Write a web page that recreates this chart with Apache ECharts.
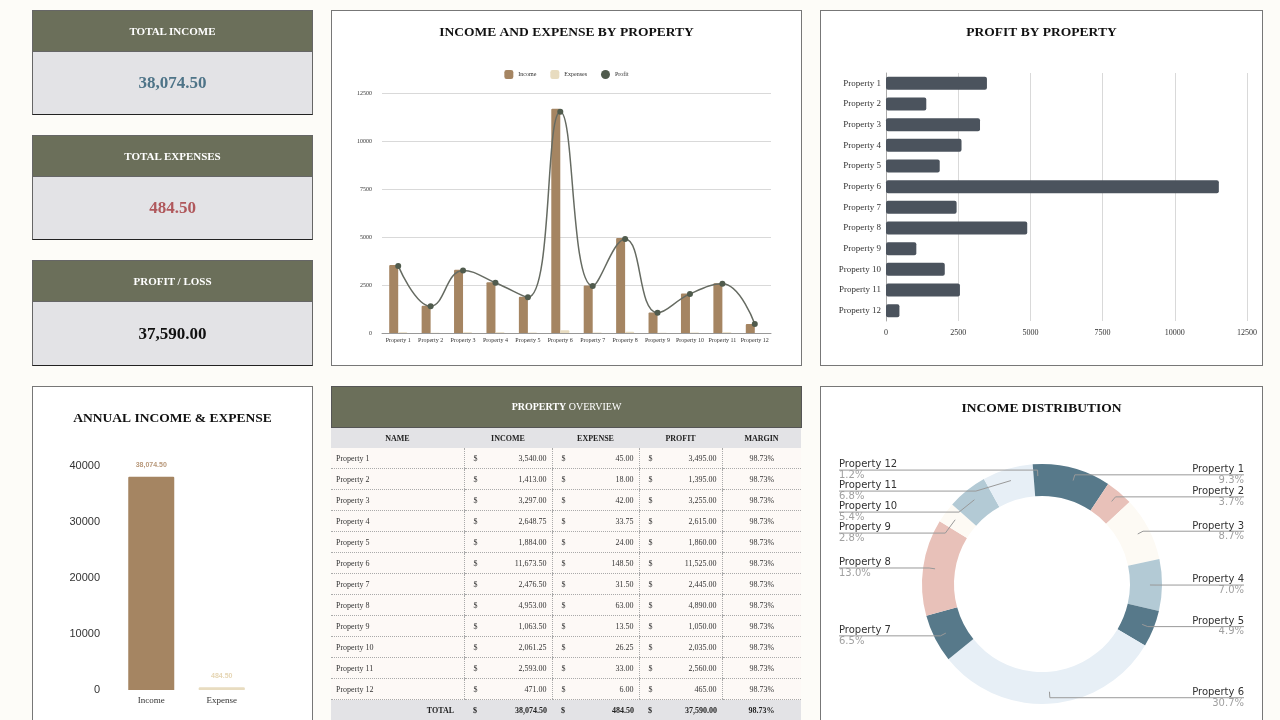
<!DOCTYPE html>
<html>
<head>
<meta charset="utf-8">
<title>Property Dashboard</title>
<script src="https://cdn.jsdelivr.net/npm/echarts@6/dist/echarts.min.js"></script>
<style>
body{margin:0;background:#fdfcf8;font-family:"Liberation Serif",serif;color:#222;}
.abs{position:absolute;box-sizing:border-box;}
.panel{background:#fff;border:1px solid #777;}
.kh{background:#6b6f5a;color:#fff;font-weight:bold;font-size:11px;text-align:center;line-height:40px;border:1px solid #666;}
.kb{background:#e3e3e6;font-weight:bold;font-size:17px;text-align:center;border:1px solid #666;border-top:none;border-bottom:1px solid #222;}
.flat{will-change:transform;}
#tbl{border-collapse:collapse;width:470px;font-size:8px;table-layout:fixed;}
#tbl td{height:20px;padding:0 5px;border-bottom:1px dotted #aaa;border-left:1px dotted #aaa;background:#fdf9f6;color:#333;white-space:nowrap;}
#tbl td:first-child{border-left:none;}
#tbl .th td{background:#e3e3e6;font-weight:bold;text-align:center;border-left:none;border-bottom:none;color:#222;}
#tbl .tot td{background:#e3e3e6;font-weight:bold;border-left:none;border-bottom:none;color:#222;}
.cur{float:left;padding-left:4px;}
.num{float:right;}
</style>
</head>
<body>

<div class="abs kh flat" style="left:32px;top:10px;width:281px;height:42px;">TOTAL INCOME</div>
<div class="abs kb flat" id="kpiIncome" style="left:32px;top:52px;width:281px;height:63px;line-height:62px;color:#4e7488;"></div>
<div class="abs kh flat" style="left:32px;top:135px;width:281px;height:42px;">TOTAL EXPENSES</div>
<div class="abs kb flat" id="kpiExpense" style="left:32px;top:177px;width:281px;height:63px;line-height:62px;color:#b0585c;"></div>
<div class="abs kh flat" style="left:32px;top:260px;width:281px;height:42px;">PROFIT / LOSS</div>
<div class="abs kb flat" id="kpiProfit" style="left:32px;top:302px;width:281px;height:64px;line-height:63px;color:#111;"></div>

<div class="abs panel" id="combo" style="left:331px;top:10px;width:471px;height:356px;"></div>
<div class="abs panel" id="profitBar" style="left:820px;top:10px;width:443px;height:356px;"></div>
<div class="abs panel" id="annual" style="left:32px;top:386px;width:281px;height:345px;"></div>

<div class="abs flat" style="left:331px;top:386px;width:471px;height:334px;overflow:hidden;">
  <div style="background:#6b6f5a;color:#fff;height:42px;line-height:40px;text-align:center;font-size:10px;border:1px solid #555;box-sizing:border-box;"><b>PROPERTY</b> OVERVIEW</div>
  <table id="tbl">
    <colgroup><col style="width:133px"><col style="width:88px"><col style="width:87px"><col style="width:83px"><col style="width:79px"></colgroup>
    <tbody id="tbody"></tbody>
  </table>
</div>

<div class="abs panel" id="donut" style="left:820px;top:386px;width:443px;height:345px;"></div>

<script>
// data
var propNames = ['Property 1','Property 2','Property 3','Property 4','Property 5','Property 6','Property 7','Property 8','Property 9','Property 10','Property 11','Property 12'];
var incomeVals = [3540.00, 1413.00, 3297.00, 2648.75, 1884.00, 11673.50, 2476.50, 4953.00, 1063.50, 2061.25, 2593.00, 471.00];
var expenseVals = [45.00, 18.00, 42.00, 33.75, 24.00, 148.50, 31.50, 63.00, 13.50, 26.25, 33.00, 6.00];
var profitVals = [3495.00, 1395.00, 3255.00, 2615.00, 1860.00, 11525.00, 2445.00, 4890.00, 1050.00, 2035.00, 2560.00, 465.00];
var marginVals = ['98.73%','98.73%','98.73%','98.73%','98.73%','98.73%','98.73%','98.73%','98.73%','98.73%','98.73%','98.73%'];
var totalIncome = 38074.50;
var totalExpense = 484.50;
var totalProfit = 37590.00;
var totalMargin = '98.73%';
var annualCats = ['Income','Expense'];
var annualVals = [38074.50, 484.50];

var serif = 'Liberation Serif';

function fmt(v){
    var s = v.toFixed(2).split('.');
    return s[0].replace(/\B(?=(\d{3})+(?!\d))/g, ',') + '.' + s[1];
}
function plain(v){ return String(v); }

// kpi cards
document.getElementById('kpiIncome').textContent = fmt(totalIncome);
document.getElementById('kpiExpense').textContent = fmt(totalExpense);
document.getElementById('kpiProfit').textContent = fmt(totalProfit);

// table
var rows = '<tr class="th"><td>NAME</td><td>INCOME</td><td>EXPENSE</td><td>PROFIT</td><td>MARGIN</td></tr>';
function money(v){ return '<td><span class="cur">$</span><span class="num">' + fmt(v) + '</span></td>'; }
for (var i = 0; i < propNames.length; i++) {
    rows += '<tr><td>' + propNames[i] + '</td>' + money(incomeVals[i]) + money(expenseVals[i]) + money(profitVals[i]) +
        '<td style="text-align:center">' + marginVals[i] + '</td></tr>';
}
rows += '<tr class="tot"><td style="text-align:right;padding-right:10px">TOTAL</td>' + money(totalIncome) + money(totalExpense) + money(totalProfit) +
    '<td style="text-align:center">' + totalMargin + '</td></tr>';
document.getElementById('tbody').innerHTML = rows;

// income and expense by property
var comboChart = echarts.init(document.getElementById('combo'));
var comboOption = {
    animation: false,
    title: {
        text: 'INCOME AND EXPENSE BY PROPERTY', left: 'center', top: 10,
        textStyle: {fontFamily: serif, fontSize: 13.5, fontWeight: 'bold', color: '#111'}
    },
    legend: {
        top: 54, left: 'center', itemWidth: 9, itemHeight: 9, itemGap: 14,
        textStyle: {fontFamily: serif, fontSize: 6, color: '#333'},
        data: [
            {name: 'Income', icon: 'roundRect'},
            {name: 'Expenses', icon: 'roundRect'},
            {name: 'Profit', icon: 'circle'}
        ]
    },
    grid: {left: 50, right: 30, top: 82, bottom: 32},
    xAxis: {
        type: 'category', data: propNames,
        axisTick: {show: false},
        axisLine: {lineStyle: {color: '#999'}},
        axisLabel: {fontFamily: serif, fontSize: 6, color: '#333', margin: 4, interval: 0}
    },
    yAxis: {
        type: 'value', min: 0, max: 12500, interval: 2500,
        axisLabel: {fontFamily: serif, fontSize: 6, color: '#333', margin: 10, formatter: plain},
        splitLine: {lineStyle: {color: '#d9d9d9'}}
    },
    series: [
        {name: 'Income', type: 'bar', data: incomeVals, barWidth: 9, barGap: '0%',
            itemStyle: {color: '#a58562', borderRadius: [1, 1, 0, 0]}},
        {name: 'Expenses', type: 'bar', data: expenseVals, barWidth: 9,
            itemStyle: {color: '#e8dcc0', borderRadius: [1, 1, 0, 0]}},
        {name: 'Profit', type: 'line', data: profitVals, smooth: 0.45,
            symbol: 'circle', symbolSize: 6,
            lineStyle: {color: '#666b62', width: 1.5},
            itemStyle: {color: '#505b4d'}}
    ]
};
comboChart.setOption(comboOption);

// profit by property
var profitChart = echarts.init(document.getElementById('profitBar'));
var profitOption = {
    animation: false,
    title: {
        text: 'PROFIT BY PROPERTY', left: 'center', top: 10,
        textStyle: {fontFamily: serif, fontSize: 13.5, fontWeight: 'bold', color: '#111'}
    },
    grid: {left: 65, right: 15, top: 62, bottom: 44},
    xAxis: {
        type: 'value', min: 0, max: 12500, interval: 2500,
        axisLabel: {fontFamily: serif, fontSize: 8, color: '#333', margin: 8, formatter: plain},
        splitLine: {lineStyle: {color: '#d9d9d9'}}
    },
    yAxis: {
        type: 'category', data: propNames, inverse: true,
        axisTick: {show: false},
        axisLine: {lineStyle: {color: '#aaa'}},
        axisLabel: {fontFamily: serif, fontSize: 9, color: '#333', margin: 5}
    },
    series: [
        {name: 'Profit', type: 'bar', data: profitVals, barWidth: 13,
            itemStyle: {color: '#4b535d', borderRadius: 2}}
    ]
};
profitChart.setOption(profitOption);

// annual income & expense
var annualChart = echarts.init(document.getElementById('annual'));
var annualColors = ['#a58562', '#e8dcc0'];
var annualLabelColors = ['#b8987a', '#e6d6b4'];
var annualOption = {
    animation: false,
    title: {
        text: 'ANNUAL INCOME & EXPENSE', left: 'center', top: 20,
        textStyle: {fontFamily: serif, fontSize: 13.5, fontWeight: 'bold', color: '#111'}
    },
    grid: {left: 83, right: 55, top: 79, bottom: 40},
    xAxis: {
        type: 'category', data: annualCats,
        axisTick: {show: false}, axisLine: {show: false},
        axisLabel: {fontFamily: serif, fontSize: 9, color: '#333', margin: 6}
    },
    yAxis: {
        type: 'value', min: 0, max: 40000, interval: 10000,
        splitLine: {show: false},
        axisLabel: {fontSize: 11, color: '#333', margin: 16, formatter: plain}
    },
    series: [
        {type: 'bar', barWidth: 46,
            data: annualVals.map(function(v, i){
                return {value: v, itemStyle: {color: annualColors[i]},
                    label: {color: annualLabelColors[i]}};
            }),
            itemStyle: {borderRadius: [1, 1, 0, 0]},
            label: {show: true, position: 'top', distance: 8, fontSize: 7, fontWeight: 'bold',
                formatter: function(p){ return fmt(p.value); }}
        }
    ]
};
annualChart.setOption(annualOption);

// income distribution: visible ring + transparent pie that carries the labels
var donutChart = echarts.init(document.getElementById('donut'));
var donutColors = ['#57798a','#e8c1b9','#fdfaf4','#b3cad5','#57798a','#e7eff6','#57798a','#e8c1b9','#fdfaf4','#b3cad5','#e7eff6','#57798a'];
var donutCenter = [221, 197];
var donutData = propNames.map(function(n, i){
    return {name: n, value: incomeVals[i], itemStyle: {color: donutColors[i]}};
});
var donutOption = {
    animation: false,
    title: {
        text: 'INCOME DISTRIBUTION', left: 'center', top: 10,
        textStyle: {fontFamily: serif, fontSize: 13.5, fontWeight: 'bold', color: '#111'}
    },
    series: [
        {
            type: 'pie', radius: [88, 120], center: donutCenter, startAngle: 90, z: 1,
            data: donutData, label: {show: false}, labelLine: {show: false}
        },
        {
            type: 'pie', radius: [0, 108], center: donutCenter, startAngle: 90, silent: true, z: 5,
            data: donutData.map(function(d){ return {name: d.name, value: d.value}; }),
            itemStyle: {color: 'rgba(0,0,0,0)'},
            label: {
                alignTo: 'edge', edgeDistance: 18, minMargin: 0,
                formatter: function(p){
                    return '{name|' + p.name + '}\n{pct|' + (p.value / totalIncome * 100).toFixed(1) + '%}';
                },
                lineHeight: 10.5,
                rich: {
                    name: {fontSize: 10, lineHeight: 10.5, color: '#333', fontFamily: 'DejaVu Sans'},
                    pct: {fontSize: 10, lineHeight: 10.5, color: '#a0a0a0', fontFamily: 'DejaVu Sans'}
                }
            },
            labelLine: {show: true, length: 6, length2: 0, maxSurfaceAngle: 90, lineStyle: {color: '#999', width: 1}},
            labelLayout: function(params){
                var isLeft = params.labelRect.x < donutChart.getWidth() / 2;
                var points = params.labelLinePoints;
                if (!points) return {};
                points[2][0] = isLeft ? params.labelRect.x : params.labelRect.x + params.labelRect.width;
                return {labelLinePoints: points};
            }
        }
    ]
};
donutChart.setOption(donutOption);
</script>
</body>
</html>
